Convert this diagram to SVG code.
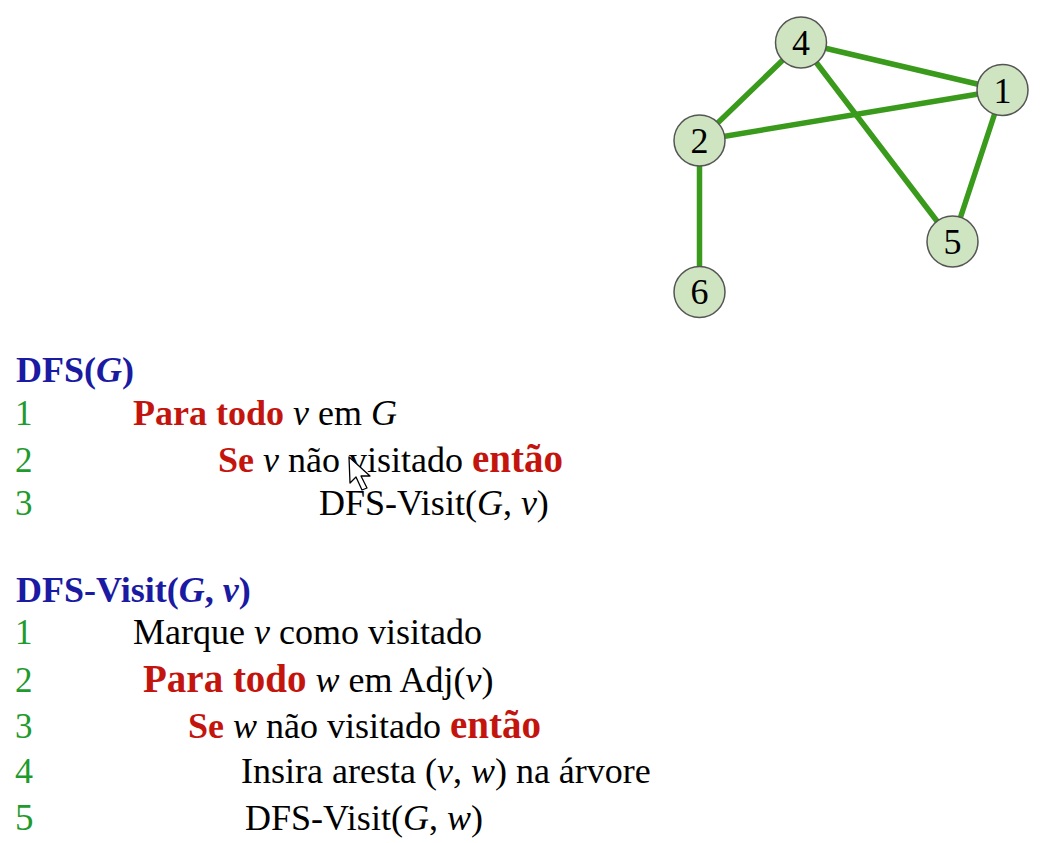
<svg xmlns="http://www.w3.org/2000/svg" width="1048" height="843" viewBox="0 0 1048 843">
<style>
text{font-family:"Liberation Serif","Times New Roman",serif;font-size:36px;fill:#000}
.h{font-weight:bold;fill:#1a1aa3}
.n{fill:#1f9a2c;font-size:35px}
.k{font-weight:bold;fill:#c3150e}
.kb{font-size:39px}
.i{font-style:italic}
.edge{stroke:#3a9a1c;stroke-width:5.5;stroke-linecap:round}
.node circle{fill:#cfe4c0;stroke:#555;stroke-width:1.5}
.node text{font-size:36px;text-anchor:middle}
</style>
<rect width="1048" height="843" fill="#fff"/>
<g id="connectors">
<line class="edge" x1="801" y1="42.5" x2="1002.5" y2="90"/>
<line class="edge" x1="801" y1="42.5" x2="699.5" y2="140.5"/>
<line class="edge" x1="801" y1="42.5" x2="952.5" y2="241.5"/>
<line class="edge" x1="699.5" y1="140.5" x2="1002.5" y2="90"/>
<line class="edge" x1="1002.5" y1="90" x2="952.5" y2="241.5"/>
<line class="edge" x1="699.5" y1="140.5" x2="699.5" y2="292"/>
</g>
<g id="node4" class="node"><circle cx="801" cy="42.5" r="25.5"/><text x="801" y="54.5">4</text></g>
<g id="node1" class="node"><circle cx="1002.5" cy="90" r="25.5"/><text x="1002.5" y="102.5">1</text></g>
<g id="node2" class="node"><circle cx="699.5" cy="140.5" r="25.5"/><text x="699.5" y="153">2</text></g>
<g id="node5" class="node"><circle cx="952.5" cy="241.5" r="25.5"/><text x="952.5" y="253.5">5</text></g>
<g id="node6" class="node"><circle cx="699.5" cy="292" r="25.5"/><text x="699.5" y="304">6</text></g>
<g id="dfs">
<text class="h" x="16" y="382">DFS(<tspan class="i">G</tspan>)</text>
<text class="n" x="15" y="425">1</text>
<text x="133" y="425"><tspan class="k">Para todo</tspan> <tspan class="i">v</tspan> em <tspan class="i">G</tspan></text>
<text class="n" x="15" y="472">2</text>
<text x="218" y="472"><tspan class="k">Se</tspan> <tspan class="i">v</tspan> não visitado <tspan class="k kb">então</tspan></text>
<text class="n" x="15" y="515">3</text>
<text x="319" y="515">DFS-Visit(<tspan class="i">G</tspan>, <tspan class="i">v</tspan>)</text>
</g>
<g id="dfs-visit">
<text class="h" x="16" y="602">DFS-Visit(<tspan class="i">G</tspan>, <tspan class="i">v</tspan>)</text>
<text class="n" x="15" y="644">1</text>
<text x="133" y="644">Marque <tspan class="i">v</tspan> como visitado</text>
<text class="n" x="15" y="692">2</text>
<text x="143" y="692"><tspan class="k kb">Para todo</tspan> <tspan class="i">w</tspan> em Adj(<tspan class="i">v</tspan>)</text>
<text class="n" x="15" y="738">3</text>
<text x="188" y="738"><tspan class="k">Se</tspan> <tspan class="i">w</tspan> não visitado <tspan class="k kb">então</tspan></text>
<text class="n" x="15" y="783" style="font-size:36px">4</text>
<text x="241" y="783">Insira aresta (<tspan class="i">v</tspan>, <tspan class="i">w</tspan>) na árvore</text>
<text class="n" x="15" y="830" style="font-size:37px">5</text>
<text x="245" y="830">DFS-Visit(<tspan class="i">G</tspan>, <tspan class="i">w</tspan>)</text>
</g>
<path id="cursor" d="M349,457 L350,483 L356,477 L362,490 L367,488 L361,476 L370,476 Z" fill="#fff" stroke="#000" stroke-width="1.3" stroke-linejoin="round"/>
</svg>
